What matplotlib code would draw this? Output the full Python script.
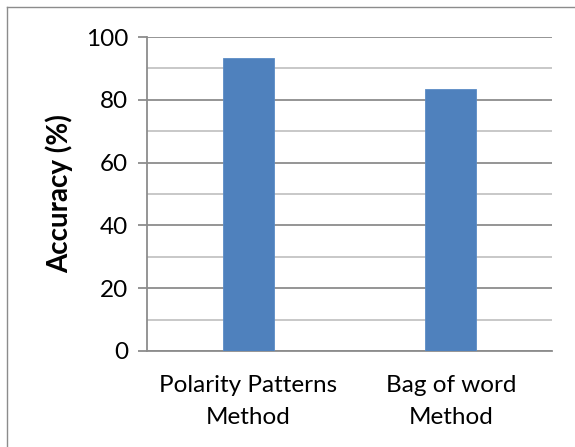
import matplotlib.pyplot as plt
import matplotlib.ticker as ticker
from matplotlib.lines import Line2D

methods = ['Polarity Patterns\nMethod', 'Bag of word\nMethod']
accuracy = [93.4, 83.3]
yticks = [0, 20, 40, 60, 80, 100]

plt.rcParams['font.family'] = ['Lato', 'DejaVu Sans']

fig = plt.figure(figsize=(5.75, 4.47), dpi=100)
ax = fig.add_axes([0.2557, 0.2148, 0.7043, 0.7024])

xpos = range(len(methods))
ax.bar(xpos, accuracy, width=0.25, color='#4f81bd', edgecolor='#5b8cc6', linewidth=0.6, zorder=3)

ax.set_xlim(-0.5, len(methods) - 0.5)
ax.set_ylim(0, 100)
ax.set_xticks(list(xpos))
ax.set_xticklabels(methods, fontsize=17.5, linespacing=1.65)
ax.set_yticks(yticks)
ax.set_yticklabels([str(v) for v in yticks], fontsize=17.5)
ax.yaxis.set_minor_locator(ticker.MultipleLocator(10))

# major gridlines darker, the in-between ones lighter
ax.grid(axis='y', which='major', color='#8c8c8c', linewidth=1.3, zorder=1)
ax.grid(axis='y', which='minor', color='#c4c4c4', linewidth=1.3, zorder=1)

for s in ['top', 'right']:
    ax.spines[s].set_visible(False)
ax.spines['left'].set_color('#8c8c8c')
ax.spines['left'].set_linewidth(1.3)
ax.spines['bottom'].set_color('#8c8c8c')
ax.spines['bottom'].set_linewidth(1.3)

ax.tick_params(axis='y', which='major', direction='out', length=6.5, width=1.3, color='#8c8c8c', pad=7)
ax.tick_params(axis='y', which='minor', length=0)
ax.tick_params(axis='x', length=0, pad=17)

ax.set_ylabel('Accuracy (%)', fontsize=20, fontweight='bold', labelpad=9)

# chart border (left and top edges visible)
fig.add_artist(Line2D([7 / 575, 7 / 575], [0, 1 - 7 / 447], color='#8c8c8c', linewidth=1.0))
fig.add_artist(Line2D([7 / 575, 1], [1 - 7 / 447, 1 - 7 / 447], color='#8c8c8c', linewidth=1.0))

fig.savefig('out.png', dpi=100)
